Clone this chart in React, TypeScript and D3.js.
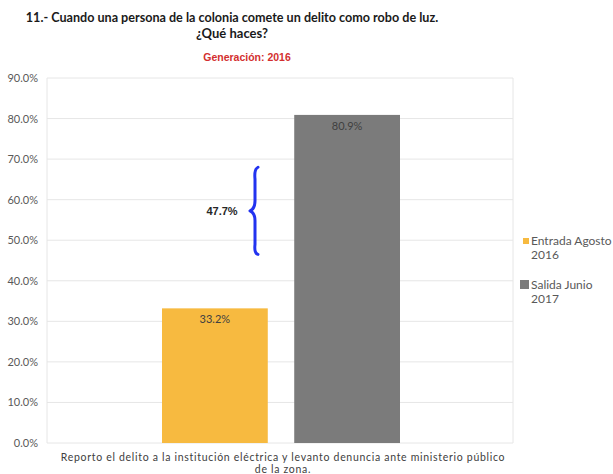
import { useEffect, useRef } from 'react'
import * as d3 from 'd3'

const W = 613
const H = 474
const MARGIN = { top: 78, right: 100, bottom: 31, left: 47 }

const categories = ['Reporto el delito a la institución eléctrica y levanto denuncia ante ministerio público de la zona.']
const seriesNames = ['Entrada Agosto 2016', 'Salida Junio 2017']
const seriesValues = [33.2, 80.9]
const seriesColors = ['#F7BA40', '#7B7B7B']
const legendLines = [['Entrada Agosto', '2016'], ['Salida Junio', '2017']]
const yTicks = [0, 10, 20, 30, 40, 50, 60, 70, 80, 90]
const categoryLines = ['Reporto el delito a la institución eléctrica y levanto denuncia ante ministerio público', 'de la zona.']
// brace annotation: spans these percentages, labelled with the gap between series
const braceRange = [46.5, 68]
const gapLabel = '47.7%'

const FONT = 'Lato, "DejaVu Sans", sans-serif'

export default function App() {
  const svgRef = useRef<SVGSVGElement>(null)

  useEffect(() => {
    if (!svgRef.current) return
    const svg = d3.select(svgRef.current)
    svg.selectAll('*').remove()

    const innerW = W - MARGIN.left - MARGIN.right
    const innerH = H - MARGIN.top - MARGIN.bottom

    svg.append('rect').attr('width', W).attr('height', H).attr('fill', '#fff')

    // Title
    svg.append('text')
      .attr('x', 232).attr('y', 22)
      .attr('text-anchor', 'middle')
      .attr('font-family', FONT).attr('font-weight', 'bold').attr('font-size', 12.6)
      .attr('fill', '#1a1a1a')
      .text('11.- Cuando una persona de la colonia comete un delito como robo de luz.')
    svg.append('text')
      .attr('x', 232).attr('y', 38)
      .attr('text-anchor', 'middle')
      .attr('font-family', FONT).attr('font-weight', 'bold').attr('font-size', 13)
      .attr('fill', '#1a1a1a')
      .text('¿Qué haces?')
    svg.append('text')
      .attr('x', 247).attr('y', 61)
      .attr('text-anchor', 'middle')
      .attr('font-family', '"Liberation Sans", Arial, sans-serif').attr('font-weight', 'bold').attr('font-size', 10.5)
      .attr('fill', '#D32F2F')
      .text('Generación: 2016')

    const g = svg.append('g').attr('transform', `translate(${MARGIN.left},${MARGIN.top})`)

    const y = d3.scaleLinear().domain([0, 90]).range([innerH, 0])
    const x0 = d3.scaleBand().domain(categories).range([0, innerW])
    const x1 = d3.scaleBand().domain(seriesNames).range([115, 353]).paddingInner(0.2)

    // grid
    g.selectAll('line.grid')
      .data(yTicks)
      .join('line')
      .attr('x1', 0).attr('x2', innerW)
      .attr('y1', (d) => y(d)).attr('y2', (d) => y(d))
      .attr('stroke', '#E6E6E6').attr('stroke-width', 1)
    g.append('line').attr('x1', 0).attr('x2', 0).attr('y1', 0).attr('y2', innerH)
      .attr('stroke', '#E6E6E6')
    g.append('line').attr('x1', innerW).attr('x2', innerW).attr('y1', 0).attr('y2', innerH)
      .attr('stroke', '#E6E6E6')

    // y tick labels
    g.selectAll('text.tick')
      .data(yTicks)
      .join('text')
      .attr('x', -9).attr('y', (d) => y(d) + 4)
      .attr('text-anchor', 'end')
      .attr('font-family', FONT).attr('font-size', 11)
      .attr('fill', '#595959')
      .text((d) => `${d.toFixed(1)}%`)

    // bars
    const cat = categories[0]
    const bx = x0(cat) ?? 0
    g.selectAll('rect.bar')
      .data(seriesValues)
      .join('rect')
      .attr('x', (_, i) => bx + (x1(seriesNames[i]) ?? 0))
      .attr('y', (d) => y(d))
      .attr('width', x1.bandwidth())
      .attr('height', (d) => innerH - y(d))
      .attr('fill', (_, i) => seriesColors[i])

    g.selectAll('text.val')
      .data(seriesValues)
      .join('text')
      .attr('x', (_, i) => bx + (x1(seriesNames[i]) ?? 0) + x1.bandwidth() / 2)
      .attr('y', (d) => y(d) + 15)
      .attr('text-anchor', 'middle')
      .attr('font-family', FONT).attr('font-size', 11)
      .attr('fill', '#404040')
      .text((d) => `${d.toFixed(1)}%`)

    // brace
    const bTop = y(braceRange[1])
    const bBot = y(braceRange[0])
    const bMid = (bTop + bBot) / 2
    const bxR = 209
    const brace = d3.path()
    brace.moveTo(bxR + 2, bTop)
    brace.quadraticCurveTo(bxR - 2, bTop + 2, bxR - 1, bTop + 12)
    brace.lineTo(bxR - 1, bMid - 10)
    brace.quadraticCurveTo(bxR - 1, bMid - 2, bxR - 6, bMid)
    brace.quadraticCurveTo(bxR - 1, bMid + 2, bxR - 1, bMid + 10)
    brace.lineTo(bxR - 1, bBot - 10)
    brace.quadraticCurveTo(bxR - 2, bBot - 1, bxR + 2, bBot)
    g.append('path')
      .attr('d', brace.toString())
      .attr('fill', 'none')
      .attr('stroke', '#2233F0')
      .attr('stroke-width', 3)
      .attr('stroke-linecap', 'round')
      .attr('stroke-linejoin', 'round')

    g.append('text')
      .attr('x', 175).attr('y', bMid + 4)
      .attr('text-anchor', 'middle')
      .attr('font-family', '"Liberation Sans", Arial, sans-serif').attr('font-weight', 'bold').attr('font-size', 11)
      .attr('fill', '#262626')
      .text(gapLabel)

    // category label
    const ct = g.append('text')
      .attr('text-anchor', 'middle')
      .attr('font-family', FONT).attr('font-size', 10.5)
      .attr('letter-spacing', 0.7)
      .attr('fill', '#404040')
    categoryLines.forEach((line, i) => {
      ct.append('tspan').attr('x', bx + 236).attr('y', innerH + 18 + i * 12).text(line)
    })

    // legend
    const lg = svg.append('g').attr('transform', 'translate(520,236)')
    legendLines.forEach((lines, i) => {
      const row = lg.append('g').attr('transform', `translate(0,${i * 44})`)
      row.append('rect').attr('x', i === 0 ? 3 : 0).attr('y', i === 0 ? 2 : 0)
        .attr('width', i === 0 ? 6 : 9).attr('height', i === 0 ? 6 : 9)
        .attr('fill', seriesColors[i])
      lines.forEach((t, j) => {
        row.append('text')
          .attr('x', 11).attr('y', 9 + j * 14)
          .attr('font-family', FONT).attr('font-size', 12)
          .attr('fill', '#595959')
          .text(t)
      })
    })
  }, [])

  return (
    <svg
      ref={svgRef}
      width={W}
      height={H}
      style={{ position: 'absolute', left: 0, top: 0 }}
    />
  )
}
